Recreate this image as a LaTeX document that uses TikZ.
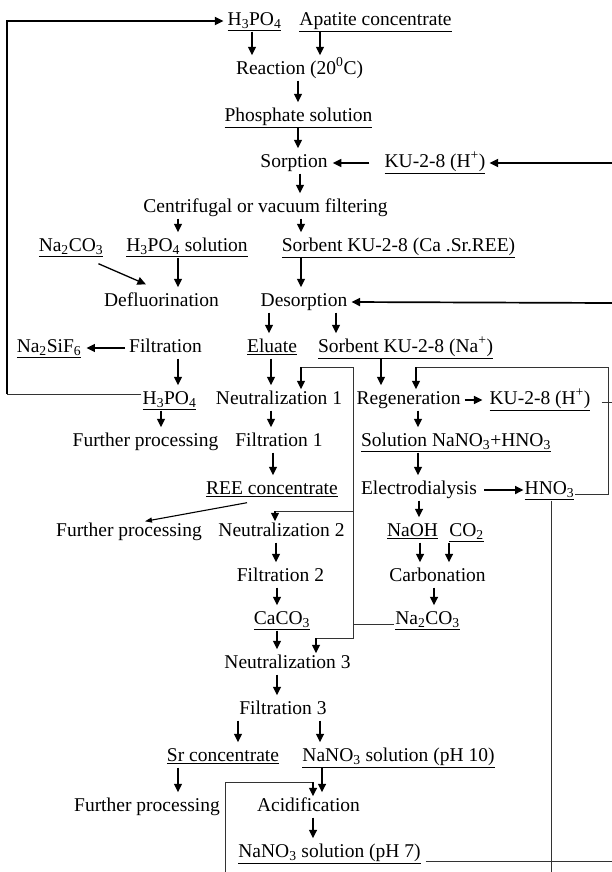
\documentclass[tikz,border=0pt]{standalone}
\usepackage{fontspec}
\setmainfont{Liberation Serif}
\usetikzlibrary{arrows.meta}
\newcommand{\udl}[1]{\underline{#1}}
\newcommand{\sub}[1]{\textsubscript{#1}}

\begin{document}
\begin{tikzpicture}[x=1pt,y=-1pt,
    every node/.style={inner xsep=1pt,inner ysep=2pt,text height=13pt,text depth=4pt,font=\fontsize{19.5}{22}\selectfont},
    arr/.style={line width=1.5pt,-{Triangle[length=8.5pt,width=8pt]},shorten >=4pt},
    bigarr/.style={line width=1.7pt,-{Triangle[length=8.5pt,width=8pt]},shorten >=3pt},
    pipe/.style={line width=0.8pt,black!80}]
    \useasboundingbox (0,0) rectangle (612,872);
    \node (h3poA) at (254.5,21) {\udl{H\sub{3}PO\sub{4}}};
    \node (apatite) at (375.5,21) {\udl{Apatite concentrate}};
    \node (reaction) at (299.5,70) {Reaction (20\textsuperscript{0}C)};
    \node (phosphate) at (298.5,117) {\udl{Phosphate solution}};
    \node (sorption) at (294,163) {Sorption};
    \node (kuA) at (435,163) {\udl{KU-2-8 (H\textsuperscript{+})}};
    \node (centrifugal) at (265.5,208) {Centrifugal or vacuum filtering};
    \node (nacoA) at (71,247) {\udl{Na\sub{2}CO\sub{3}}};
    \node (h3posol) at (187,247) {\udl{H\sub{3}PO\sub{4} solution}};
    \node (sorbentCa) at (398.5,247) {\udl{Sorbent KU-2-8 (Ca .Sr.REE)}};
    \node (defluor) at (161.5,302) {Defluorination};
    \node (desorption) at (304,302) {Desorption};
    \node (nasif) at (49,348) {\udl{Na\sub{2}SiF\sub{6}}};
    \node (filtration) at (165.5,348) {Filtration};
    \node (eluate) at (272,348) {\udl{Eluate}};
    \node (sorbentNa) at (405.5,348) {\udl{Sorbent KU-2-8 (Na\textsuperscript{+})}};
    \node (h3poB) at (169.5,400) {\udl{H\sub{3}PO\sub{4}}};
    \node (neutr1) at (279,400) {Neutralization 1};
    \node (regen) at (408.5,400) {Regeneration};
    \node (kuB) at (540,400) {\udl{KU-2-8 (H\textsuperscript{+})}};
    \node (further1) at (145.5,442) {Further processing};
    \node (filt1) at (279,442) {Filtration 1};
    \node (solution) at (456,442) {\udl{Solution NaNO\sub{3}+HNO\sub{3}}};
    \node (ree) at (272,490) {\udl{REE concentrate}};
    \node (electro) at (419,490) {Electrodialysis};
    \node (hno) at (549.5,490) {\udl{HNO\sub{3}}};
    \node (further2) at (129,532) {Further processing};
    \node (neutr2) at (281.5,532) {Neutralization 2};
    \node (naoh) at (412.5,532) {\udl{NaOH}};
    \node (co2) at (466.5,532) {\udl{CO\sub{2}}};
    \node (filt2) at (280.5,577) {Filtration 2};
    \node (carbon) at (437.5,577) {Carbonation};
    \node (caco) at (282,620) {\udl{CaCO\sub{3}}};
    \node (nacoB) at (427.5,620) {\udl{Na\sub{2}CO\sub{3}}};
    \node (neutr3) at (287.5,664) {Neutralization 3};
    \node (filt3) at (283,710) {Filtration 3};
    \node (sr) at (223,757) {\udl{Sr concentrate}};
    \node (nano10) at (398.5,757) {\udl{NaNO\sub{3} solution (pH 10)}};
    \node (further3) at (147,807) {Further processing};
    \node (acid) at (308.5,807) {Acidification};
    \node (nano7) at (329.5,853) {\udl{NaNO\sub{3} solution (pH 7)}};

    \coordinate (lb) at (7,394);
    \coordinate (lt) at (7,21);
    \coordinate (rA) at (612,163);
    \coordinate (rB) at (612,303);
    \coordinate (jtop) at (353,367);
    \coordinate (jn1) at (301,367);
    \coordinate (jmid) at (353,511);
    \coordinate (jn2) at (275,511);
    \coordinate (jbot) at (353,638);
    \coordinate (jn3) at (316,638);
    \coordinate (hr) at (608,367);
    \coordinate (jreg) at (416,367);
    \coordinate (kuout) at (612,402);
    \coordinate (hdown) at (551,872);
    \coordinate (nout) at (612,861);
    \coordinate (abot) at (225,872);
    \coordinate (acorner) at (225,782);
    \coordinate (jacid) at (313,782);

    \draw[arr] (h3poA.south -| 252,0) -- (reaction.north -| 252,0);
    \draw[arr] (apatite.south -| 320,0) -- (reaction.north -| 320,0);
    \draw[arr] (reaction.south -| 298,0) -- (phosphate.north -| 298,0);
    \draw[arr] (phosphate.south -| 298,0) -- (sorption.north -| 298,0);
    \draw[arr] ([xshift=-14pt]kuA.west) -- (sorption.east);
    \draw[bigarr] (rA) -- (kuA.east);
    \draw[arr] (sorption.south -| 300,0) -- (centrifugal.north -| 300,0);
    \draw[arr] (centrifugal.south -| 178,0) -- (h3posol.north -| 178,0);
    \draw[arr] (centrifugal.south -| 301,0) -- (sorbentCa.north -| 301,0);
    \draw[line width=1.3pt,-{Triangle[length=8.5pt,width=8pt]}] ([xshift=-6pt,yshift=-6pt]nacoA.south east) -- ([xshift=43pt,yshift=7pt]defluor.north west);
    \draw[arr] (h3posol.south -| 178,0) -- (defluor.north -| 178,0);
    \draw[arr] (sorbentCa.south -| 301,0) -- (desorption.north -| 301,0);
    \draw[bigarr] (rB) -- (desorption.east);
    \draw[arr] (desorption.south -| 269,0) -- (eluate.north -| 269,0);
    \draw[arr] (desorption.south -| 336,0) -- (sorbentNa.north -| 336,0);
    \draw[arr] ([xshift=-3pt]filtration.west) -- (nasif.east);
    \draw[arr] (filtration.south -| 178,0) -- (h3poB.north -| 178,0);
    \draw[arr] (eluate.south -| 271,0) -- (neutr1.north -| 271,0);
    \draw[arr] (sorbentNa.south -| 381,0) -- (regen.north -| 381,0);
    \draw[pipe] ([yshift=6pt]h3poB.west) -- (lb);
    \draw[bigarr] (lb) -- (lt) -- (h3poA.west);
    \draw[arr,shorten >=6pt] ([xshift=3pt]regen.east) -- (kuB.west);
    \draw[arr] (h3poB.south -| 161,0) -- (further1.north -| 161,0);
    \draw[arr] (neutr1.south -| 271,0) -- (filt1.north -| 271,0);
    \draw[arr] (regen.south -| 418,0) -- (solution.north -| 418,0);
    \draw[arr] (filt1.south -| 273,0) -- (ree.north -| 273,0);
    \draw[arr] (solution.south -| 418,0) -- (electro.north -| 418,0);
    \draw[bigarr,shorten >=0pt] ([xshift=6pt]electro.east) -- (hno.west);
    \draw[line width=1.1pt,-{Triangle[length=7pt,width=5pt]}] ([xshift=42pt,yshift=-2pt]ree.south west) -- ([xshift=16pt]further2.north);
    \draw[arr] (electro.south -| 419,0) -- (naoh.north -| 419,0);
    \draw[arr] (neutr2.south -| 276,0) -- (filt2.north -| 276,0);
    \draw[arr] (naoh.south -| 420,0) -- (carbon.north -| 420,0);
    \draw[arr] (co2.south -| 449,0) -- (carbon.north -| 449,0);
    \draw[arr] (filt2.south -| 277,0) -- (caco.north -| 277,0);
    \draw[arr] (carbon.south -| 434,0) -- (nacoB.north -| 434,0);
    \draw[arr] (caco.south -| 277,0) -- (neutr3.north -| 277,0);
    \draw[arr] (neutr3.south -| 277,0) -- (filt3.north -| 277,0);
    \draw[arr] (filt3.south -| 238,0) -- (sr.north -| 238,0);
    \draw[arr] (filt3.south -| 320,0) -- (nano10.north -| 320,0);
    \draw[arr] (sr.south -| 178,0) -- (further3.north -| 178,0);
    \draw[arr] (nano10.south -| 322,0) -- (acid.north -| 322,0);
    \draw[arr] (acid.south -| 313,0) -- (nano7.north -| 313,0);

    \draw[pipe] ([yshift=-4pt]nacoB.west) -| (jtop) -- (jn1);
    \draw[arr,shorten >=0pt] (jn1) -- (neutr1.north -| jn1);
    \draw[pipe] (jmid) -- (jn2);
    \draw[arr,shorten >=0pt] (jn2) -- (neutr2.north -| jn2);
    \draw[pipe] (jtop) -- (jbot) -- (jn3);
    \draw[arr,shorten >=0pt] (jn3) -- (neutr3.north -| jn3);
    \draw[pipe] ([yshift=-4pt]hno.east) -| (hr) -- (jreg);
    \draw[arr,shorten >=0pt] (jreg) -- (regen.north -| jreg);
    \draw[pipe] ([xshift=10pt,yshift=-2pt]kuB.east) -- (kuout);
    \draw[pipe] (hno.south -| hdown) -- (hdown);
    \draw[pipe] ([xshift=4pt,yshift=-8pt]nano7.east) -- (nout);
    \draw[pipe] (abot) -- (acorner) -- (jacid);
    \draw[arr,shorten >=0pt] (jacid) -- (acid.north -| jacid);
\end{tikzpicture}
\end{document}
